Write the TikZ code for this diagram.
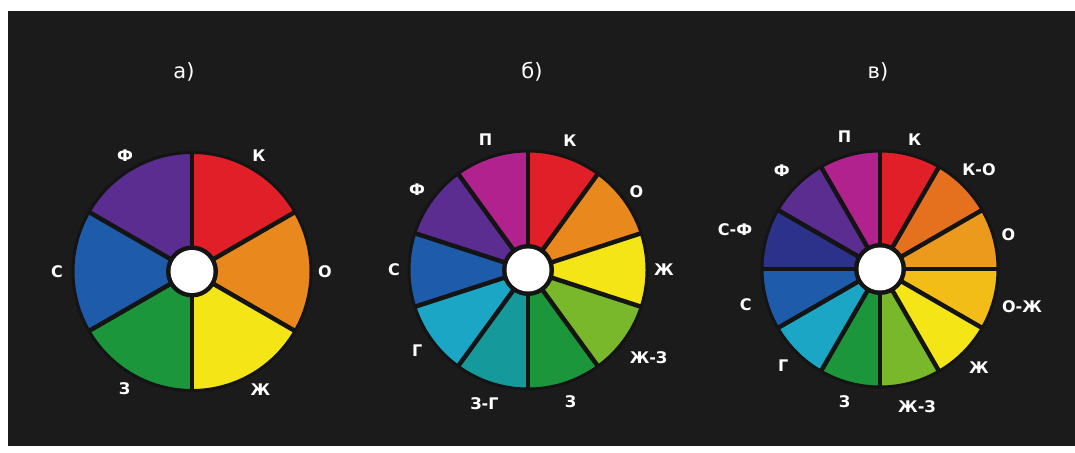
\documentclass[tikz,border=0pt]{standalone}
\usepackage{fontspec}
\setmainfont{DejaVu Sans}
\usetikzlibrary{calc}
\definecolor{bg}{HTML}{1B1B1B}
\definecolor{sepc}{HTML}{141414}
\definecolor{wred}{HTML}{E01F28}
\definecolor{worange}{HTML}{E9881C}
\definecolor{wyellow}{HTML}{F4E516}
\definecolor{wgreen}{HTML}{1B963A}
\definecolor{wblue}{HTML}{1E5CAB}
\definecolor{wpurple}{HTML}{5B2D91}
\definecolor{wmagenta}{HTML}{B2228E}
\definecolor{wyg}{HTML}{78B82A}
\definecolor{wteal}{HTML}{16999A}
\definecolor{wcyan}{HTML}{1BA6C6}
\definecolor{corangered}{HTML}{E5711E}
\definecolor{corange}{HTML}{EC9A1C}
\definecolor{cyo}{HTML}{F2BD17}
\definecolor{cindigo}{HTML}{2C318A}
\begin{document}
\begin{tikzpicture}[x=1pt,y=1pt,
  lbl/.style={text=white,font=\bfseries\fontsize{16}{18}\selectfont,inner sep=0pt},
  ttl/.style={text=white,font=\fontsize{21}{25}\selectfont,inner sep=0pt},
  sepline/.style={draw=sepc,line width=4.5pt},
  rim/.style={draw=sepc,line width=3pt},
  hubring/.style={fill=sepc},
  hub/.style={fill=white}]
\useasboundingbox (0,0) rectangle (1075,452);
\fill[white] (0,0) rectangle (1075,452);
\fill[bg] (8,6) rectangle (1075,441);

% titles
\node[ttl] (ta) at (184,380) {а)};
\node[ttl] (tb) at (532,380) {б)};
\node[ttl] (tc) at (878,380) {в)};

% ---------- wheel a ----------
\coordinate (ca) at (192,180.5);
\foreach \s/\e/\c/\t/\n/\r in {30/90/wred/К/ak/134,-30/30/worange/О/ao/133,-90/-30/wyellow/Ж/azh/137,-150/-90/wgreen/З/az/135,150/210/wblue/С/as/135,90/150/wpurple/Ф/af/134}{
  \fill[\c] (ca) -- ($(ca)+(\s:119)$) arc[start angle=\s,end angle=\e,radius=119] -- cycle;
  \node[lbl] (\n) at ($(ca)+({(\s+\e)/2}:\r)$) {\t};
}
\foreach \a in {90,30,-30,-90,-150,150}{\draw[sepline] (ca) -- ($(ca)+(\a:119)$);}
\draw[rim] (ca) circle[radius=119];
\fill[hubring] (ca) circle[radius=26];
\fill[hub] (ca) circle[radius=21.5];

% ---------- wheel b ----------
\coordinate (cb) at (528,182);
\foreach \s/\e/\c/\t/\n/\r in {54/90/wred/К/bk/136,18/54/worange/О/bo/134,-18/18/wyellow/Ж/bzh/136,-54/-18/wyg/Ж-З/bzhz/149,-90/-54/wgreen/З/bz/138,-126/-90/wteal/З-Г/bzg/141,-162/-126/wcyan/Г/bgm/137,162/198/wblue/С/bs/134,126/162/wpurple/Ф/bf/137,90/126/wmagenta/П/bp/137}{
  \fill[\c] (cb) -- ($(cb)+(\s:119)$) arc[start angle=\s,end angle=\e,radius=119] -- cycle;
  \node[lbl] (\n) at ($(cb)+({(\s+\e)/2}:\r)$) {\t};
}
\foreach \a in {90,54,18,-18,-54,-90,-126,-162,162,126}{\draw[sepline] (cb) -- ($(cb)+(\a:119)$);}
\draw[rim] (cb) circle[radius=119];
\fill[hubring] (cb) circle[radius=26];
\fill[hub] (cb) circle[radius=21.5];

% ---------- wheel c ----------
\coordinate (cc) at (880,183);
\foreach \s/\e/\c/\t/\n/\r in {60/90/wred/К/ck/134,30/60/corangered/К-О/cko/140,0/30/corange/О/co/133,-30/0/cyo/О-Ж/coz/147,-60/-30/wyellow/Ж/czh/140,-90/-60/wyg/Ж-З/czhz/143,-120/-90/wgreen/З/cz/137,-150/-120/wcyan/Г/cgm/137,180/210/wblue/С/cs/139,150/180/cindigo/С-Ф/csf/150,120/150/wpurple/Ф/cf/139,90/120/wmagenta/П/cp/137}{
  \fill[\c] (cc) -- ($(cc)+(\s:118)$) arc[start angle=\s,end angle=\e,radius=118] -- cycle;
  \node[lbl] (\n) at ($(cc)+({(\s+\e)/2}:\r)$) {\t};
}
\foreach \a in {90,60,30,0,-30,-60,-90,-120,-150,180,150,120}{\draw[sepline] (cc) -- ($(cc)+(\a:118)$);}
\draw[rim] (cc) circle[radius=118];
\fill[hubring] (cc) circle[radius=26];
\fill[hub] (cc) circle[radius=21.5];
\end{tikzpicture}
\end{document}
